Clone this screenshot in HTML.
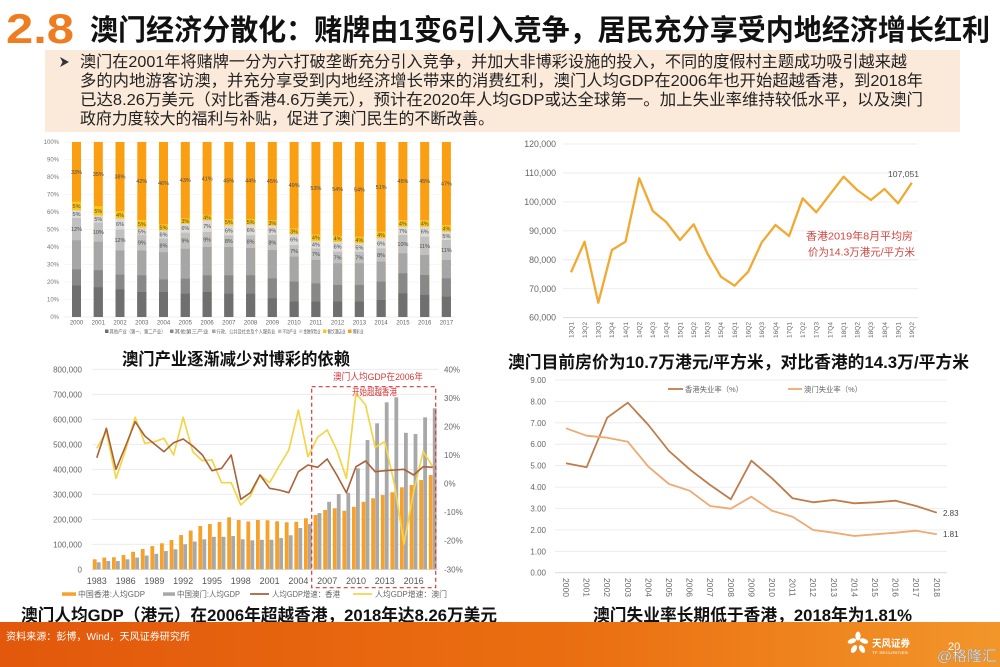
<!DOCTYPE html>
<html><head><meta charset="utf-8">
<style>
html,body{margin:0;padding:0;background:#fff;width:1000px;height:667px;overflow:hidden}
svg{display:block}
text{font-family:"Liberation Sans","Noto Sans CJK SC",sans-serif}
</style></head>
<body>
<svg width="1000" height="667" viewBox="0 0 1000 667" xmlns="http://www.w3.org/2000/svg">
<defs>
<linearGradient id="ft" x1="0" y1="0" x2="1" y2="0">
<stop offset="0" stop-color="#E2580C"/><stop offset="0.6" stop-color="#EB7011"/><stop offset="1" stop-color="#F2962A"/>
</linearGradient>
</defs>
<rect width="1000" height="667" fill="#fff"/>

<!-- Title -->
<text x="6" y="43" font-size="42" font-weight="700" fill="#EE7D21" textLength="68" lengthAdjust="spacingAndGlyphs">2.8</text>
<text x="90" y="40" font-size="29" font-weight="700" fill="#111" textLength="900" lengthAdjust="spacingAndGlyphs">澳门经济分散化：赌牌由1变6引入竞争，居民充分享受内地经济增长红利</text>

<!-- Text box -->
<rect x="45" y="50" width="915" height="82" fill="#FBE9DA"/>
<polygon points="60,57 69,62 60,67 62.5,62" fill="#333"/>
<g font-size="16" fill="#222">
<text x="80" y="67" textLength="827" lengthAdjust="spacingAndGlyphs">澳门在2001年将赌牌一分为六打破垄断充分引入竞争，并加大非博彩设施的投入，不同的度假村主题成功吸引越来越</text>
<text x="80" y="86" textLength="843" lengthAdjust="spacingAndGlyphs">多的内地游客访澳，并充分享受到内地经济增长带来的消费红利，澳门人均GDP在2006年也开始超越香港，到2018年</text>
<text x="80" y="105" textLength="843" lengthAdjust="spacingAndGlyphs">已达8.26万美元（对比香港4.6万美元），预计在2020年人均GDP或达全球第一。加上失业率维持较低水平，以及澳门</text>
<text x="80" y="124" textLength="414" lengthAdjust="spacingAndGlyphs">政府力度较大的福利与补贴，促进了澳门民生的不断改善。</text>
</g>

<!-- ============ Top-left stacked bar chart ============ -->
<g stroke="#F0F0F0" stroke-width="0.6">
<line x1="64" x2="455" y1="142" y2="142"/><line x1="64" x2="455" y1="159.5" y2="159.5"/><line x1="64" x2="455" y1="177" y2="177"/><line x1="64" x2="455" y1="194.5" y2="194.5"/><line x1="64" x2="455" y1="212" y2="212"/><line x1="64" x2="455" y1="229.5" y2="229.5"/><line x1="64" x2="455" y1="247" y2="247"/><line x1="64" x2="455" y1="264.5" y2="264.5"/><line x1="64" x2="455" y1="282" y2="282"/><line x1="64" x2="455" y1="299.5" y2="299.5"/>
</g>
<line x1="64" x2="455" y1="317" y2="317" stroke="#D9D9D9" stroke-width="0.6"/>
<g font-size="6" fill="#777" text-anchor="end">
<text x="59" y="144">100%</text><text x="59" y="161.5">90%</text><text x="59" y="179">80%</text><text x="59" y="196.5">70%</text><text x="59" y="214">60%</text><text x="59" y="231.5">50%</text><text x="59" y="249">40%</text><text x="59" y="266.5">30%</text><text x="59" y="284">20%</text><text x="59" y="301.5">10%</text><text x="59" y="319">0%</text>
</g>
<g transform="translate(0,317) scale(1,-1.75)">
<g fill="#FA9E12">
<rect x="72" y="0" width="9" height="100"/><rect x="93.8" y="0" width="9" height="100"/><rect x="115.5" y="0" width="9" height="100"/><rect x="137.3" y="0" width="9" height="100"/><rect x="159" y="0" width="9" height="100"/><rect x="180.8" y="0" width="9" height="100"/><rect x="202.6" y="0" width="9" height="100"/><rect x="224.3" y="0" width="9" height="100"/><rect x="246.1" y="0" width="9" height="100"/><rect x="267.8" y="0" width="9" height="100"/><rect x="289.6" y="0" width="9" height="100"/><rect x="311.4" y="0" width="9" height="100"/><rect x="333.1" y="0" width="9" height="100"/><rect x="354.9" y="0" width="9" height="100"/><rect x="376.6" y="0" width="9" height="100"/><rect x="398.4" y="0" width="9" height="100"/><rect x="420.2" y="0" width="9" height="100"/><rect x="441.9" y="0" width="9" height="100"/>
</g>
<g fill="#FFC414">
<rect x="72" y="0" width="9" height="66"/><rect x="93.8" y="0" width="9" height="63.4"/><rect x="115.5" y="0" width="9" height="60.4"/><rect x="137.3" y="0" width="9" height="55.5"/><rect x="159" y="0" width="9" height="53"/><rect x="180.8" y="0" width="9" height="56.5"/><rect x="202.6" y="0" width="9" height="58.5"/><rect x="224.3" y="0" width="9" height="56"/><rect x="246.1" y="0" width="9" height="56"/><rect x="267.8" y="0" width="9" height="55.4"/><rect x="289.6" y="0" width="9" height="50.7"/><rect x="311.4" y="0" width="9" height="47.2"/><rect x="333.1" y="0" width="9" height="46.5"/><rect x="354.9" y="0" width="9" height="45.9"/><rect x="376.6" y="0" width="9" height="48.8"/><rect x="398.4" y="0" width="9" height="55.4"/><rect x="420.2" y="0" width="9" height="55.4"/><rect x="441.9" y="0" width="9" height="52.6"/>
</g>
<g fill="#DADADA">
<rect x="72" y="0" width="9" height="61"/><rect x="93.8" y="0" width="9" height="58"/><rect x="115.5" y="0" width="9" height="56.2"/><rect x="137.3" y="0" width="9" height="51"/><rect x="159" y="0" width="9" height="49.5"/><rect x="180.8" y="0" width="9" height="53.3"/><rect x="202.6" y="0" width="9" height="55.2"/><rect x="224.3" y="0" width="9" height="52.4"/><rect x="246.1" y="0" width="9" height="52.8"/><rect x="267.8" y="0" width="9" height="52.2"/><rect x="289.6" y="0" width="9" height="47.2"/><rect x="311.4" y="0" width="9" height="43.4"/><rect x="333.1" y="0" width="9" height="43"/><rect x="354.9" y="0" width="9" height="42.1"/><rect x="376.6" y="0" width="9" height="45"/><rect x="398.4" y="0" width="9" height="51.6"/><rect x="420.2" y="0" width="9" height="51.6"/><rect x="441.9" y="0" width="9" height="48.8"/>
</g>
<g fill="#C0C0C0">
<rect x="72" y="0" width="9" height="56.6"/><rect x="93.8" y="0" width="9" height="54"/><rect x="115.5" y="0" width="9" height="50"/><rect x="137.3" y="0" width="9" height="47"/><rect x="159" y="0" width="9" height="44.8"/><rect x="180.8" y="0" width="9" height="48.2"/><rect x="202.6" y="0" width="9" height="48.6"/><rect x="224.3" y="0" width="9" height="46.7"/><rect x="246.1" y="0" width="9" height="46.7"/><rect x="267.8" y="0" width="9" height="46.9"/><rect x="289.6" y="0" width="9" height="41.1"/><rect x="311.4" y="0" width="9" height="39.2"/><rect x="333.1" y="0" width="9" height="37.3"/><rect x="354.9" y="0" width="9" height="37.3"/><rect x="376.6" y="0" width="9" height="39.2"/><rect x="398.4" y="0" width="9" height="46.9"/><rect x="420.2" y="0" width="9" height="45.9"/><rect x="441.9" y="0" width="9" height="44"/>
</g>
<g fill="#A6A6A6">
<rect x="72" y="0" width="9" height="43.8"/><rect x="93.8" y="0" width="9" height="43"/><rect x="115.5" y="0" width="9" height="38"/><rect x="137.3" y="0" width="9" height="38"/><rect x="159" y="0" width="9" height="37"/><rect x="180.8" y="0" width="9" height="39"/><rect x="202.6" y="0" width="9" height="40"/><rect x="224.3" y="0" width="9" height="40"/><rect x="246.1" y="0" width="9" height="39.4"/><rect x="267.8" y="0" width="9" height="38.3"/><rect x="289.6" y="0" width="9" height="34.5"/><rect x="311.4" y="0" width="9" height="32.6"/><rect x="333.1" y="0" width="9" height="30.7"/><rect x="354.9" y="0" width="9" height="30.7"/><rect x="376.6" y="0" width="9" height="31.6"/><rect x="398.4" y="0" width="9" height="36.4"/><rect x="420.2" y="0" width="9" height="35.4"/><rect x="441.9" y="0" width="9" height="32.6"/>
</g>
<g fill="#888888">
<rect x="72" y="0" width="9" height="27.2"/><rect x="93.8" y="0" width="9" height="26.7"/><rect x="115.5" y="0" width="9" height="24.2"/><rect x="137.3" y="0" width="9" height="23.8"/><rect x="159" y="0" width="9" height="21.5"/><rect x="180.8" y="0" width="9" height="21.9"/><rect x="202.6" y="0" width="9" height="23.8"/><rect x="224.3" y="0" width="9" height="23.8"/><rect x="246.1" y="0" width="9" height="23.8"/><rect x="267.8" y="0" width="9" height="22.1"/><rect x="289.6" y="0" width="9" height="20.2"/><rect x="311.4" y="0" width="9" height="19.2"/><rect x="333.1" y="0" width="9" height="18.3"/><rect x="354.9" y="0" width="9" height="18.3"/><rect x="376.6" y="0" width="9" height="20.2"/><rect x="398.4" y="0" width="9" height="25"/><rect x="420.2" y="0" width="9" height="24"/><rect x="441.9" y="0" width="9" height="22.1"/>
</g>
<g fill="#6F6F6F">
<rect x="72" y="0" width="9" height="18"/><rect x="93.8" y="0" width="9" height="17"/><rect x="115.5" y="0" width="9" height="15.8"/><rect x="137.3" y="0" width="9" height="14.3"/><rect x="159" y="0" width="9" height="14.3"/><rect x="180.8" y="0" width="9" height="13.3"/><rect x="202.6" y="0" width="9" height="14.3"/><rect x="224.3" y="0" width="9" height="13.3"/><rect x="246.1" y="0" width="9" height="13.3"/><rect x="267.8" y="0" width="9" height="10.7"/><rect x="289.6" y="0" width="9" height="8.8"/><rect x="311.4" y="0" width="9" height="8.8"/><rect x="333.1" y="0" width="9" height="8.8"/><rect x="354.9" y="0" width="9" height="8.8"/><rect x="376.6" y="0" width="9" height="9.7"/><rect x="398.4" y="0" width="9" height="13.5"/><rect x="420.2" y="0" width="9" height="12.6"/><rect x="441.9" y="0" width="9" height="11.6"/>
</g>
</g>
<g font-size="5.5" fill="#4a4a4a" text-anchor="middle">
<text x="76.5" y="173.8">33%</text><text x="76.5" y="207.9">5%</text><text x="76.5" y="216.1">5%</text><text x="76.5" y="231.1">12%</text>
<text x="98.3" y="176">35%</text><text x="98.3" y="212.8">5%</text><text x="98.3" y="221">5%</text><text x="98.3" y="234.1">10%</text>
<text x="120" y="178.6">38%</text><text x="120" y="217">4%</text><text x="120" y="226.1">6%</text><text x="120" y="242">12%</text>
<text x="141.8" y="182.9">42%</text><text x="141.8" y="225.8">5%</text><text x="141.8" y="233.3">5%</text><text x="141.8" y="244.6">9%</text>
<text x="163.5" y="185.1">46%</text><text x="163.5" y="229.3">5%</text><text x="163.5" y="236.5">6%</text><text x="163.5" y="247.4">8%</text>
<text x="185.3" y="182.1">43%</text><text x="185.3" y="222.9">3%</text><text x="185.3" y="230.2">6%</text><text x="185.3" y="242.7">9%</text>
<text x="207.1" y="180.3">41%</text><text x="207.1" y="219.5">4%</text><text x="207.1" y="228.2">7%</text><text x="207.1" y="241.5">9%</text>
<text x="228.8" y="182.5">45%</text><text x="228.8" y="224.2">5%</text><text x="228.8" y="232.3">6%</text><text x="228.8" y="243.1">8%</text>
<text x="250.6" y="182.5">44%</text><text x="250.6" y="223.8">5%</text><text x="250.6" y="231.9">6%</text><text x="250.6" y="243.7">8%</text>
<text x="272.3" y="183">45%</text><text x="272.3" y="224.8">3%</text><text x="272.3" y="232.3">9%</text><text x="272.3" y="244.5">8%</text>
<text x="294.1" y="187.1">49%</text><text x="294.1" y="233.3">3%</text><text x="294.1" y="241.7">6%</text><text x="294.1" y="252.9">7%</text>
<text x="315.9" y="190.2">53%</text><text x="315.9" y="239.7">4%</text><text x="315.9" y="246.7">4%</text><text x="315.9" y="256.2">7%</text>
<text x="337.6" y="190.8">54%</text><text x="337.6" y="240.7">4%</text><text x="337.6" y="248.7">6%</text><text x="337.6" y="259.5">7%</text>
<text x="359.4" y="191.3">54%</text><text x="359.4" y="242">4%</text><text x="359.4" y="249.5">5%</text><text x="359.4" y="259.5">7%</text>
<text x="381.1" y="188.8">51%</text><text x="381.1" y="236.9">4%</text><text x="381.1" y="245.3">6%</text><text x="381.1" y="257">8%</text>
<text x="402.9" y="183">45%</text><text x="402.9" y="225.4">4%</text><text x="402.9" y="232.8">7%</text><text x="402.9" y="246.1">10%</text>
<text x="424.7" y="183">45%</text><text x="424.7" y="225.4">4%</text><text x="424.7" y="233.7">6%</text><text x="424.7" y="247.9">11%</text>
<text x="446.4" y="185.5">47%</text><text x="446.4" y="230.3">4%</text><text x="446.4" y="237.8">5%</text><text x="446.4" y="252">11%</text>
</g>
<g font-size="6" fill="#666" text-anchor="middle">
<text x="76.5" y="324.5">2000</text><text x="98.3" y="324.5">2001</text><text x="120" y="324.5">2002</text><text x="141.8" y="324.5">2003</text><text x="163.5" y="324.5">2004</text><text x="185.3" y="324.5">2005</text><text x="207.1" y="324.5">2006</text><text x="228.8" y="324.5">2007</text><text x="250.6" y="324.5">2008</text><text x="272.3" y="324.5">2009</text><text x="294.1" y="324.5">2010</text><text x="315.9" y="324.5">2011</text><text x="337.6" y="324.5">2012</text><text x="359.4" y="324.5">2013</text><text x="381.1" y="324.5">2014</text><text x="402.9" y="324.5">2015</text><text x="424.7" y="324.5">2016</text><text x="446.4" y="324.5">2017</text>
</g>
<g font-size="5.2" fill="#666">
<rect x="105" y="329.5" width="3.5" height="3.5" fill="#6F6F6F"/><text x="109.5" y="333.5" textLength="56" lengthAdjust="spacingAndGlyphs">其他产业（第一、第二产业）</text>
<rect x="170" y="329.5" width="3.5" height="3.5" fill="#888888"/><text x="174.5" y="333.5" textLength="34" lengthAdjust="spacingAndGlyphs">其他第三产业</text>
<rect x="212" y="329.5" width="3.5" height="3.5" fill="#A6A6A6"/><text x="216.5" y="333.5" textLength="59" lengthAdjust="spacingAndGlyphs">行政、公共及社会及个人服务业</text>
<rect x="278" y="329.5" width="3.5" height="3.5" fill="#C0C0C0"/><text x="282.5" y="333.5" textLength="14" lengthAdjust="spacingAndGlyphs">不动产业</text>
<rect x="299" y="329.5" width="3.5" height="3.5" fill="#DADADA"/><text x="303.5" y="333.5" textLength="17" lengthAdjust="spacingAndGlyphs">金融保险业</text>
<rect x="323" y="329.5" width="3.5" height="3.5" fill="#FFC414"/><text x="327.5" y="333.5" textLength="18" lengthAdjust="spacingAndGlyphs">餐饮酒店业</text>
<rect x="348" y="329.5" width="3.5" height="3.5" fill="#FA9E12"/><text x="352.5" y="333.5" textLength="11" lengthAdjust="spacingAndGlyphs">博彩业</text>
</g>
<text x="122" y="365" font-size="17" font-weight="700" fill="#111" textLength="228" lengthAdjust="spacingAndGlyphs">澳门产业逐渐减少对博彩的依赖</text>

<!-- ============ Top-right line chart ============ -->
<g stroke="#E8E8E8" stroke-width="0.8">
<line x1="563" x2="918" y1="144" y2="144"/><line x1="563" x2="918" y1="172.95" y2="172.95"/><line x1="563" x2="918" y1="201.9" y2="201.9"/><line x1="563" x2="918" y1="230.85" y2="230.85"/><line x1="563" x2="918" y1="259.8" y2="259.8"/><line x1="563" x2="918" y1="288.75" y2="288.75"/>
</g>
<line x1="563" x2="918" y1="317.7" y2="317.7" stroke="#D6D6D6" stroke-width="0.8"/>
<g font-size="8.8" fill="#666" text-anchor="end">
<text x="556" y="147">120,000</text><text x="556" y="176">110,000</text><text x="556" y="204.9">100,000</text><text x="556" y="233.9">90,000</text><text x="556" y="262.8">80,000</text><text x="556" y="291.8">70,000</text><text x="556" y="320.7">60,000</text>
</g>
<polyline fill="none" stroke="#F2A932" stroke-width="2.3" stroke-linejoin="round" points="571,272.3 584.6,241.7 598.3,302.7 611.9,250 625.5,241.7 639.2,178.3 652.8,211 666.4,222.3 680,240 693.7,224.3 707.3,253.3 720.9,276.7 734.6,285.7 748.2,271.7 761.8,242.3 775.5,225 789.1,236 802.7,198.3 816.3,212.3 830,194.3 843.6,176.7 857.2,190 870.9,200 884.5,189 898.1,203.3 911.8,182.7"/>
<g font-size="6.5" fill="#666" text-anchor="middle">
<text transform="translate(571,330) rotate(-90)" y="2.3">13Q1</text><text transform="translate(584.6,330) rotate(-90)" y="2.3">13Q2</text><text transform="translate(598.3,330) rotate(-90)" y="2.3">13Q3</text><text transform="translate(611.9,330) rotate(-90)" y="2.3">13Q4</text><text transform="translate(625.5,330) rotate(-90)" y="2.3">14Q1</text><text transform="translate(639.2,330) rotate(-90)" y="2.3">14Q2</text><text transform="translate(652.8,330) rotate(-90)" y="2.3">14Q3</text><text transform="translate(666.4,330) rotate(-90)" y="2.3">14Q4</text><text transform="translate(680,330) rotate(-90)" y="2.3">15Q1</text><text transform="translate(693.7,330) rotate(-90)" y="2.3">15Q2</text><text transform="translate(707.3,330) rotate(-90)" y="2.3">15Q3</text><text transform="translate(720.9,330) rotate(-90)" y="2.3">15Q4</text><text transform="translate(734.6,330) rotate(-90)" y="2.3">16Q1</text><text transform="translate(748.2,330) rotate(-90)" y="2.3">16Q2</text><text transform="translate(761.8,330) rotate(-90)" y="2.3">16Q3</text><text transform="translate(775.5,330) rotate(-90)" y="2.3">16Q4</text><text transform="translate(789.1,330) rotate(-90)" y="2.3">17Q1</text><text transform="translate(802.7,330) rotate(-90)" y="2.3">17Q2</text><text transform="translate(816.3,330) rotate(-90)" y="2.3">17Q3</text><text transform="translate(830,330) rotate(-90)" y="2.3">17Q4</text><text transform="translate(843.6,330) rotate(-90)" y="2.3">18Q1</text><text transform="translate(857.2,330) rotate(-90)" y="2.3">18Q2</text><text transform="translate(870.9,330) rotate(-90)" y="2.3">18Q3</text><text transform="translate(884.5,330) rotate(-90)" y="2.3">18Q4</text><text transform="translate(898.1,330) rotate(-90)" y="2.3">19Q1</text><text transform="translate(911.8,330) rotate(-90)" y="2.3">19Q2</text>
</g>
<text x="888" y="177" font-size="7.8" fill="#555" textLength="31" lengthAdjust="spacingAndGlyphs">107,051</text>
<text x="806" y="239.5" font-size="10.5" fill="#D0453F" textLength="107" lengthAdjust="spacingAndGlyphs">香港2019年8月平均房</text>
<text x="808" y="255.5" font-size="10.5" fill="#D0453F" textLength="107" lengthAdjust="spacingAndGlyphs">价为14.3万港元/平方米</text>
<text x="508" y="368" font-size="17" font-weight="700" fill="#111" textLength="461" lengthAdjust="spacingAndGlyphs">澳门目前房价为10.7万港元/平方米，对比香港的14.3万/平方米</text>

<!-- ============ Bottom-left combo chart ============ -->
<g stroke="#E8E8E8" stroke-width="0.8">
<line x1="92" x2="438" y1="369.3" y2="369.3"/><line x1="92" x2="438" y1="394.3" y2="394.3"/><line x1="92" x2="438" y1="419.3" y2="419.3"/><line x1="92" x2="438" y1="444.3" y2="444.3"/><line x1="92" x2="438" y1="469.3" y2="469.3"/><line x1="92" x2="438" y1="494.3" y2="494.3"/><line x1="92" x2="438" y1="519.3" y2="519.3"/><line x1="92" x2="438" y1="544.3" y2="544.3"/>
</g>
<line x1="92" x2="438" y1="569.3" y2="569.3" stroke="#D0D0D0" stroke-width="0.8"/>
<g font-size="8" fill="#666" text-anchor="end">
<text x="82" y="372.3">800,000</text><text x="82" y="397.3">700,000</text><text x="82" y="422.3">600,000</text><text x="82" y="447.3">500,000</text><text x="82" y="472.3">400,000</text><text x="82" y="497.3">300,000</text><text x="82" y="522.3">200,000</text><text x="82" y="547.3">100,000</text><text x="82" y="572.3">0</text>
</g>
<g font-size="8" fill="#666">
<text x="444" y="372.3">40%</text><text x="444" y="400.9">30%</text><text x="444" y="429.4">20%</text><text x="444" y="458">10%</text><text x="444" y="486.6">0%</text><text x="444" y="515.1">-10%</text><text x="444" y="543.7">-20%</text><text x="444" y="572.3">-30%</text>
</g>
<g transform="translate(0,569.3) scale(1,-0.25)">
<g fill="#F5A12A">
<rect x="92.8" y="0" width="3.8" height="40"/><rect x="102.4" y="0" width="3.8" height="47"/><rect x="112" y="0" width="3.8" height="48"/><rect x="121.6" y="0" width="3.8" height="57"/><rect x="131.2" y="0" width="3.8" height="70"/><rect x="140.8" y="0" width="3.8" height="81"/><rect x="150.4" y="0" width="3.8" height="93"/><rect x="160" y="0" width="3.8" height="104"/><rect x="169.6" y="0" width="3.8" height="117"/><rect x="179.2" y="0" width="3.8" height="137"/><rect x="188.8" y="0" width="3.8" height="155"/><rect x="198.4" y="0" width="3.8" height="173"/><rect x="208" y="0" width="3.8" height="181"/><rect x="217.6" y="0" width="3.8" height="189"/><rect x="227.2" y="0" width="3.8" height="208"/><rect x="236.8" y="0" width="3.8" height="197"/><rect x="246.4" y="0" width="3.8" height="191"/><rect x="256" y="0" width="3.8" height="197"/><rect x="265.6" y="0" width="3.8" height="196"/><rect x="275.2" y="0" width="3.8" height="192"/><rect x="284.8" y="0" width="3.8" height="188"/><rect x="294.4" y="0" width="3.8" height="190"/><rect x="304" y="0" width="3.8" height="204"/><rect x="313.6" y="0" width="3.8" height="217"/><rect x="323.2" y="0" width="3.8" height="237"/><rect x="332.8" y="0" width="3.8" height="244"/><rect x="342.4" y="0" width="3.8" height="234"/><rect x="352" y="0" width="3.8" height="250"/><rect x="361.6" y="0" width="3.8" height="270"/><rect x="371.2" y="0" width="3.8" height="284"/><rect x="380.8" y="0" width="3.8" height="297"/><rect x="390.4" y="0" width="3.8" height="308"/><rect x="400" y="0" width="3.8" height="328"/><rect x="409.6" y="0" width="3.8" height="337"/><rect x="419.2" y="0" width="3.8" height="357"/><rect x="428.8" y="0" width="3.8" height="377"/>
</g>
<g fill="#A8A8A8">
<rect x="96.8" y="0" width="3.8" height="28"/><rect x="106.4" y="0" width="3.8" height="33"/><rect x="116" y="0" width="3.8" height="33"/><rect x="125.6" y="0" width="3.8" height="40"/><rect x="135.2" y="0" width="3.8" height="47"/><rect x="144.8" y="0" width="3.8" height="55"/><rect x="154.4" y="0" width="3.8" height="62"/><rect x="164" y="0" width="3.8" height="73"/><rect x="173.6" y="0" width="3.8" height="80"/><rect x="183.2" y="0" width="3.8" height="100"/><rect x="192.8" y="0" width="3.8" height="111"/><rect x="202.4" y="0" width="3.8" height="120"/><rect x="212" y="0" width="3.8" height="130"/><rect x="221.6" y="0" width="3.8" height="130"/><rect x="231.2" y="0" width="3.8" height="133"/><rect x="240.8" y="0" width="3.8" height="120"/><rect x="250.4" y="0" width="3.8" height="116"/><rect x="260" y="0" width="3.8" height="118"/><rect x="269.6" y="0" width="3.8" height="118"/><rect x="279.2" y="0" width="3.8" height="125"/><rect x="288.8" y="0" width="3.8" height="136"/><rect x="298.4" y="0" width="3.8" height="165"/><rect x="308" y="0" width="3.8" height="181"/><rect x="317.6" y="0" width="3.8" height="225"/><rect x="327.2" y="0" width="3.8" height="270"/><rect x="336.8" y="0" width="3.8" height="301"/><rect x="346.4" y="0" width="3.8" height="306"/><rect x="356" y="0" width="3.8" height="404"/><rect x="365.6" y="0" width="3.8" height="517"/><rect x="375.2" y="0" width="3.8" height="584"/><rect x="384.8" y="0" width="3.8" height="668"/><rect x="394.4" y="0" width="3.8" height="688"/><rect x="404" y="0" width="3.8" height="546"/><rect x="413.6" y="0" width="3.8" height="541"/><rect x="423.2" y="0" width="3.8" height="608"/><rect x="432.8" y="0" width="3.8" height="644"/>
</g>
</g>
<polyline fill="none" stroke="#F3D54A" stroke-width="1.7" stroke-linejoin="round" points="96.8,448.3 106.4,431.7 116,478.3 125.6,450 135.2,417.3 144.8,443.3 154.4,441.7 164,438.3 173.6,455 183.2,417.3 192.8,451.7 202.4,460.7 212,460 221.6,482.7 231.2,482.7 240.8,505 250.4,496 260,475 269.6,482.7 279.2,466 288.8,450 298.4,410 308,456.7 317.6,437.3 327.2,430 336.8,450 346.4,478.3 356,393.3 365.6,405 375.2,447.3 384.8,441.7 394.4,484 404,544 413.6,491.7 423.2,451.7 432.8,466.7"/>
<polyline fill="none" stroke="#A8613A" stroke-width="1.6" stroke-linejoin="round" points="96.8,457.7 106.4,428.3 116,469.3 125.6,446 135.2,421.7 144.8,436 154.4,444 164,451.7 173.6,442.7 183.2,439 192.8,446 202.4,455 212,470.7 221.6,468.3 231.2,455 240.8,499.3 250.4,492.7 260,475 269.6,488.3 279.2,490 288.8,492.7 298.4,471.7 308,465 317.6,467.3 327.2,459 336.8,475 346.4,492.7 356,466.7 365.6,461 375.2,471.7 384.8,470.7 394.4,470 404,469.3 413.6,475 423.2,466.7 432.8,467.3"/>
<g font-size="9" fill="#555" text-anchor="middle">
<text x="96.8" y="584">1983</text><text x="125.6" y="584">1986</text><text x="154.4" y="584">1989</text><text x="183.2" y="584">1992</text><text x="212" y="584">1995</text><text x="240.8" y="584">1998</text><text x="269.6" y="584">2001</text><text x="298.4" y="584">2004</text><text x="327.2" y="584">2007</text><text x="356" y="584">2010</text><text x="384.8" y="584">2013</text><text x="413.6" y="584">2016</text>
</g>
<rect x="311.7" y="386.7" width="124" height="201" fill="none" stroke="#D9383A" stroke-width="1.2" stroke-dasharray="4,3"/>
<text x="333" y="380" font-size="9.5" fill="#D9383A" textLength="90" lengthAdjust="spacingAndGlyphs">澳门人均GDP在2006年</text>
<text x="352" y="395.5" font-size="9.5" fill="#D9383A" textLength="45" lengthAdjust="spacingAndGlyphs">开始超越香港</text>
<g font-size="8" fill="#666">
<rect x="62" y="592.3" width="14" height="3.5" fill="#F5A12A"/><text x="78" y="597" textLength="67" lengthAdjust="spacingAndGlyphs">中国香港:人均GDP</text>
<rect x="163" y="592.3" width="12" height="3.5" fill="#A8A8A8"/><text x="177" y="597" textLength="63" lengthAdjust="spacingAndGlyphs">中国澳门:人均GDP</text>
<line x1="250" x2="269" y1="594" y2="594" stroke="#A8613A" stroke-width="1.8"/><text x="272" y="597" textLength="68" lengthAdjust="spacingAndGlyphs">人均GDP增速：香港</text>
<line x1="353" x2="372" y1="594" y2="594" stroke="#F3D54A" stroke-width="1.8"/><text x="375" y="597" textLength="72" lengthAdjust="spacingAndGlyphs">人均GDP增速：澳门</text>
</g>

<!-- ============ Bottom-right unemployment chart ============ -->
<g stroke="#E8E8E8" stroke-width="0.8">
<line x1="555" x2="947" y1="380" y2="380"/><line x1="555" x2="947" y1="401.4" y2="401.4"/><line x1="555" x2="947" y1="422.8" y2="422.8"/><line x1="555" x2="947" y1="444.2" y2="444.2"/><line x1="555" x2="947" y1="465.7" y2="465.7"/><line x1="555" x2="947" y1="487.1" y2="487.1"/><line x1="555" x2="947" y1="508.5" y2="508.5"/><line x1="555" x2="947" y1="529.9" y2="529.9"/><line x1="555" x2="947" y1="551.3" y2="551.3"/>
</g>
<line x1="555" x2="947" y1="572.7" y2="572.7" stroke="#D6D6D6" stroke-width="0.8"/>
<g font-size="8" fill="#666" text-anchor="end">
<text x="546" y="383">9.00</text><text x="546" y="404.4">8.00</text><text x="546" y="425.8">7.00</text><text x="546" y="447.2">6.00</text><text x="546" y="468.7">5.00</text><text x="546" y="490.1">4.00</text><text x="546" y="511.5">3.00</text><text x="546" y="532.9">2.00</text><text x="546" y="554.3">1.00</text><text x="546" y="575.7">0.00</text>
</g>
<polyline fill="none" stroke="#BF7C4A" stroke-width="1.8" stroke-linejoin="round" points="566,463.3 586.6,467.3 607.2,417.7 627.8,402.7 648.4,425 669,451 689.6,469.3 710.2,485 730.8,499.3 751.4,460.7 772,478.3 792.6,498.3 813.2,502.3 833.8,500 854.4,503.3 875,502.3 895.6,500.7 916.2,506 936.8,512.7"/>
<polyline fill="none" stroke="#EDAA72" stroke-width="1.8" stroke-linejoin="round" points="566,428.3 586.6,435.7 607.2,437.7 627.8,441.7 648.4,466.7 669,484 689.6,490.7 710.2,506 730.8,508.7 751.4,496.7 772,510.7 792.6,516.7 813.2,530 833.8,532.7 854.4,536 875,534.3 895.6,532.7 916.2,530.7 936.8,534.3"/>
<g font-size="8.5" fill="#666" text-anchor="middle">
<text transform="translate(566,587.5) rotate(90)" y="3">2000</text><text transform="translate(586.6,587.5) rotate(90)" y="3">2001</text><text transform="translate(607.2,587.5) rotate(90)" y="3">2002</text><text transform="translate(627.8,587.5) rotate(90)" y="3">2003</text><text transform="translate(648.4,587.5) rotate(90)" y="3">2004</text><text transform="translate(669,587.5) rotate(90)" y="3">2005</text><text transform="translate(689.6,587.5) rotate(90)" y="3">2006</text><text transform="translate(710.2,587.5) rotate(90)" y="3">2007</text><text transform="translate(730.8,587.5) rotate(90)" y="3">2008</text><text transform="translate(751.4,587.5) rotate(90)" y="3">2009</text><text transform="translate(772,587.5) rotate(90)" y="3">2010</text><text transform="translate(792.6,587.5) rotate(90)" y="3">2011</text><text transform="translate(813.2,587.5) rotate(90)" y="3">2012</text><text transform="translate(833.8,587.5) rotate(90)" y="3">2013</text><text transform="translate(854.4,587.5) rotate(90)" y="3">2014</text><text transform="translate(875,587.5) rotate(90)" y="3">2015</text><text transform="translate(895.6,587.5) rotate(90)" y="3">2016</text><text transform="translate(916.2,587.5) rotate(90)" y="3">2017</text><text transform="translate(936.8,587.5) rotate(90)" y="3">2018</text>
</g>
<g font-size="7.5" fill="#666">
<line x1="668" x2="683" y1="389" y2="389" stroke="#BF7C4A" stroke-width="1.8"/><text x="685" y="392" textLength="58" lengthAdjust="spacingAndGlyphs">香港失业率（%）</text>
<line x1="788" x2="802" y1="389" y2="389" stroke="#EDAA72" stroke-width="1.8"/><text x="804" y="392" textLength="58" lengthAdjust="spacingAndGlyphs">澳门失业率（%）</text>
</g>
<g font-size="8" fill="#444">
<text x="943" y="516">2.83</text><text x="943" y="537">1.81</text>
</g>

<!-- Bottom subtitles -->
<text x="21" y="621" font-size="17" font-weight="700" fill="#111" textLength="476" lengthAdjust="spacingAndGlyphs">澳门人均GDP（港元）在2006年超越香港，2018年达8.26万美元</text>
<text x="593" y="621" font-size="17" font-weight="700" fill="#111" textLength="319" lengthAdjust="spacingAndGlyphs">澳门失业率长期低于香港，2018年为1.81%</text>

<!-- Footer -->
<rect x="0" y="622" width="1000" height="45" fill="url(#ft)"/>
<text x="6" y="640" font-size="10" fill="#fff" textLength="184" lengthAdjust="spacingAndGlyphs">资料来源：彭博，Wind，天风证券研究所</text>
<g fill="#fff">
<ellipse cx="858" cy="636" rx="2.6" ry="4.5"/>
<ellipse cx="852" cy="641" rx="4.5" ry="2.4" transform="rotate(-20 852 641)"/>
<ellipse cx="864" cy="641" rx="4.5" ry="2.4" transform="rotate(20 864 641)"/>
<ellipse cx="854" cy="649" rx="2.6" ry="4.3" transform="rotate(30 854 649)"/>
<ellipse cx="862" cy="649" rx="2.6" ry="4.3" transform="rotate(-30 862 649)"/>
</g>
<text x="872" y="647" font-size="10" font-weight="700" fill="#fff" textLength="38" lengthAdjust="spacingAndGlyphs">天风证券</text>
<text x="872" y="654" font-size="4" fill="#fff" textLength="36" lengthAdjust="spacingAndGlyphs">TF SECURITIES</text>
<text x="948" y="650" font-size="11" fill="#fff">20</text>
<text x="937" y="661" font-size="14" fill="#f4f4f4" stroke="#8a8a8a" stroke-width="0.35" textLength="60" lengthAdjust="spacingAndGlyphs">@格隆汇</text>
</svg>
</body></html>
